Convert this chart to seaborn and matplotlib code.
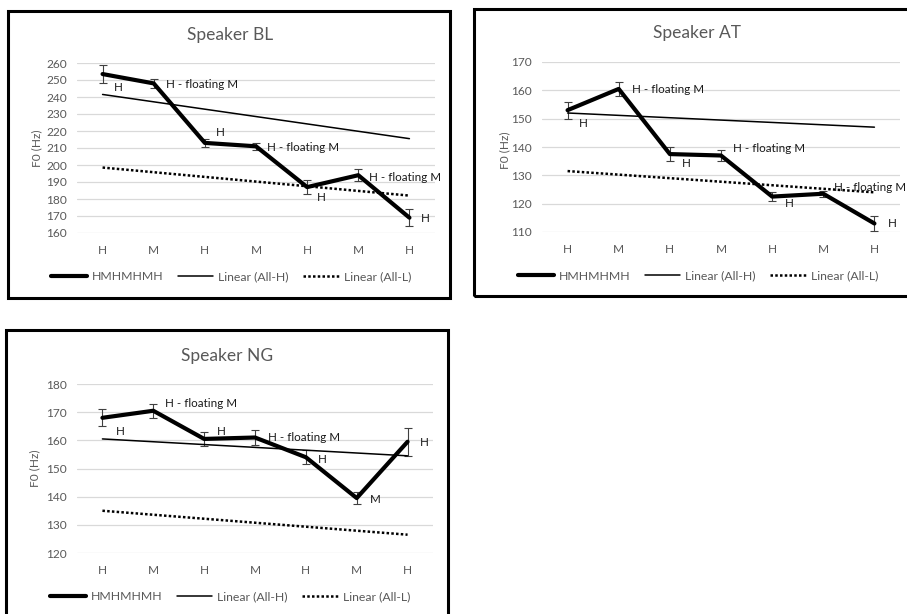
import matplotlib
matplotlib.use("Agg")
import matplotlib.pyplot as plt
from matplotlib.patches import Rectangle
from matplotlib.lines import Line2D
import numpy as np
import pandas as pd
import seaborn as sns

# ---- data ----
tones = ["H", "M", "H", "M", "H", "M", "H"]

bl_f0 = [253.5, 248.0, 213.0, 211.0, 187.0, 194.0, 169.0]
bl_err = [5.5, 2.5, 2.5, 2.0, 4.0, 3.5, 5.0]
bl_all_h = [241.5, 215.5]
bl_all_l = [198.5, 182.0]
bl_labels = ["H", "H - floating M", "H", "H - floating M", "H", "H - floating M", "H"]

at_f0 = [153.0, 160.5, 137.5, 137.0, 122.5, 123.5, 113.0]
at_err = [3.0, 2.5, 2.5, 2.0, 1.5, 1.0, 2.5]
at_all_h = [152.0, 147.0]
at_all_l = [131.5, 124.0]
at_labels = ["H", "H - floating M", "H", "H - floating M", "H", "H - floating M", "H"]

ng_f0 = [168.0, 170.5, 160.5, 161.0, 154.0, 139.5, 159.5]
ng_err = [3.0, 2.5, 2.5, 2.5, 2.5, 2.0, 5.0]
ng_all_h = [160.5, 154.5]
ng_all_l = [135.0, 126.5]
ng_labels = ["H", "H - floating M", "H", "H - floating M", "H", "M", "H"]

W, H = 907, 614
sns.set_theme(style="white")
plt.rcParams["font.family"] = ["Lato", "DejaVu Sans"]

GREY = "#595959"
GRID = "#d9d9d9"

fig = plt.figure(figsize=(W / 100, H / 100), dpi=100)


def px_rect(x0, y0, x1, y1):
    return [x0 / W, 1 - y1 / H, (x1 - x0) / W, (y1 - y0) / H]


def panel(box, axrect, title, title_xy, ylab_xy, legend_xy,
          f0, err, all_h, all_l, labels, offsets, ylim, yticks):
    # frame around the panel
    bx0, by0, bx1, by1 = box
    fig.patches.append(Rectangle((bx0 / W, 1 - by1 / H), (bx1 - bx0) / W, (by1 - by0) / H,
                                 transform=fig.transFigure, fill=False,
                                 edgecolor="black", linewidth=2.2, zorder=0))
    ax = fig.add_axes(px_rect(*axrect))
    x = np.arange(len(tones))
    df = pd.DataFrame({"pos": x, "f0": f0})
    trend = pd.DataFrame({"pos": [x[0], x[-1]], "all_h": all_h, "all_l": all_l})

    ax.errorbar(x, f0, yerr=err, fmt="none", ecolor="#404040", elinewidth=0.8,
                capsize=2.6, capthick=0.8, zorder=2)
    sns.lineplot(data=df, x="pos", y="f0", ax=ax, color="black", linewidth=3.0,
                 zorder=4, legend=False)
    sns.lineplot(data=trend, x="pos", y="all_h", ax=ax, color="black", linewidth=1.1,
                 zorder=3, legend=False)
    sns.lineplot(data=trend, x="pos", y="all_l", ax=ax, color="black", linewidth=1.8,
                 linestyle=(0, (1, 0.9)), zorder=3, legend=False)

    for xi, yi, lab, (dx, dy) in zip(x, f0, labels, offsets):
        ax.annotate(lab, (xi, yi), xytext=(dx, dy), textcoords="offset pixels",
                    ha="left", va="center", fontsize=8.4, color="#1a1a1a")

    ax.set_xlim(-0.5, len(tones) - 0.5)
    ax.set_ylim(*ylim)
    ax.set_yticks(yticks)
    ax.set_xticks(x)
    ax.set_xticklabels(tones)
    ax.set_xlabel("")
    ax.set_ylabel("")
    for s in ax.spines.values():
        s.set_visible(False)
    ax.yaxis.grid(True, color=GRID, linewidth=0.9)
    ax.set_axisbelow(True)
    ax.tick_params(axis="y", length=0, pad=7, labelsize=8.6, labelcolor=GREY)
    ax.tick_params(axis="x", length=0, pad=9, labelsize=8.6, labelcolor=GREY)

    fig.text(title_xy[0] / W, 1 - title_xy[1] / H, title, ha="center", va="center",
             fontsize=12.5, color=GREY)
    fig.text(ylab_xy[0] / W, 1 - ylab_xy[1] / H, "F0 (Hz)", ha="center", va="center",
             rotation=90, fontsize=8.6, color=GREY)

    handles = [Line2D([], [], color="black", linewidth=3.0),
               Line2D([], [], color="black", linewidth=1.1),
               Line2D([], [], color="black", linewidth=1.8, linestyle=(0, (1, 0.9)))]
    leg = fig.legend(handles, ["HMHMHMH", "Linear (All-H)", "Linear (All-L)"],
                     loc="center", bbox_to_anchor=(legend_xy[0] / W, 1 - legend_xy[1] / H),
                     ncol=3, frameon=False, fontsize=8.8, handlelength=2.9,
                     handletextpad=0.4, columnspacing=1.2)
    for t in leg.get_texts():
        t.set_color(GREY)
    return ax


panel(box=(8, 11, 450, 298), axrect=(77, 63, 435, 233), title="Speaker BL",
      title_xy=(230, 35), ylab_xy=(37, 148), legend_xy=(231, 277),
      f0=bl_f0, err=bl_err, all_h=bl_all_h, all_l=bl_all_l, labels=bl_labels,
      offsets=[(11, -13), (12, -1), (11, 10), (11, -1), (10, -10), (11, -2), (11, -1)],
      ylim=(160, 260), yticks=range(160, 261, 10))

panel(box=(474, 9, 912, 296), axrect=(542, 62, 900, 232), title="Speaker AT",
      title_xy=(697, 33), ylab_xy=(505, 150), legend_xy=(698, 276),
      f0=at_f0, err=at_err, all_h=at_all_h, all_l=at_all_l, labels=at_labels,
      offsets=[(11, -13), (13, -1), (12, -9), (12, 7.5), (13, -7), (11, 6), (13, 0)],
      ylim=(110, 170), yticks=range(110, 171, 10))

panel(box=(6, 330, 448, 622), axrect=(77, 384, 433, 553), title="Speaker NG",
      title_xy=(227, 356), ylab_xy=(35, 468), legend_xy=(230, 597),
      f0=ng_f0, err=ng_err, all_h=ng_all_h, all_l=ng_all_l, labels=ng_labels,
      offsets=[(13, -14), (12, 7), (13, 7), (13, 0), (12, -2), (13, -1), (12, -1)],
      ylim=(120, 180), yticks=range(120, 181, 10))

fig.savefig("out.png", dpi=100, facecolor="white")
